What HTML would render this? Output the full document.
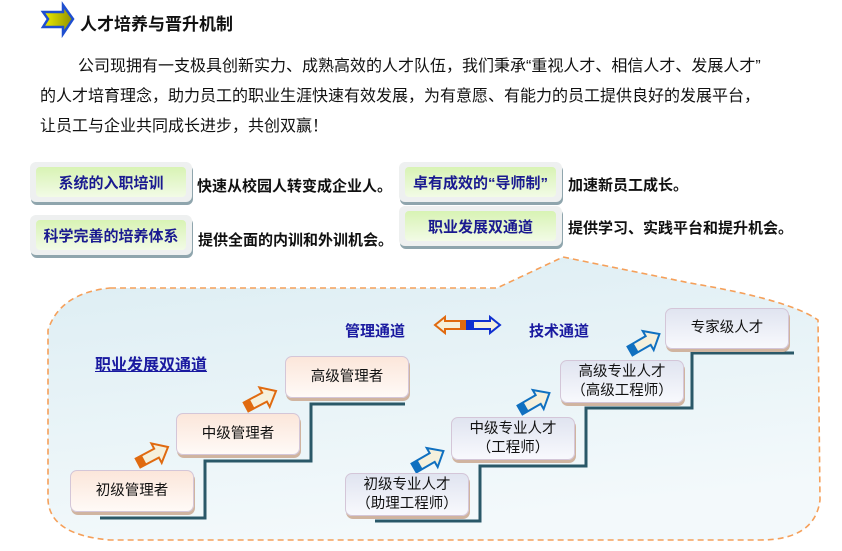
<!DOCTYPE html>
<html><head><meta charset="utf-8"><style>
body{margin:0;width:842px;height:551px;background:#fff;position:relative;overflow:hidden;font-family:"Liberation Sans","Noto Sans CJK SC",sans-serif;}
.a{position:absolute;white-space:nowrap;}
.p{font-size:16px;color:#111;line-height:20px;}
.gb{position:absolute;border-radius:6px;background:#eef0f0;box-shadow:1px 3px 0 #8fa5ad;}
.gb div{position:absolute;left:6px;top:5px;right:6px;bottom:5px;border-radius:4px;background:linear-gradient(#d8f3b4,#f2fbe6);color:#1a1a90;font-weight:bold;font-size:15px;display:flex;align-items:center;justify-content:center;}
.d{font-size:15px;font-weight:bold;color:#111;}
.mb{position:absolute;border:1.5px solid #d4c6d8;border-radius:7px;background:linear-gradient(#fbe6da,#fffaf7);box-shadow:1px 3px 0 #d0b4a0;display:flex;align-items:center;justify-content:center;text-align:center;font-size:14.5px;color:#111;line-height:19px;box-sizing:border-box;}
.tb{background:linear-gradient(#e0e4f0,#f8f9fd);}
</style></head><body>
<svg class="a" style="left:0;top:0" width="842" height="551">
<defs>
<linearGradient id="yg" x1="0" x2="1"><stop offset="0" stop-color="#f0f000"/><stop offset="1" stop-color="#909000"/></linearGradient>
<linearGradient id="bg" x1="0" y1="0" x2="0.3" y2="1"><stop offset="0" stop-color="#dcedf3"/><stop offset="1" stop-color="#f3f9fb"/></linearGradient>
</defs>
<polygon points="43,12 63,12 63,5 73,19 63,34 63,27 43,27 48,19" fill="url(#yg)" stroke="#1f4fd0" stroke-width="2.5"/>
<path d="M110,288 L497,288 L563,257 L690,283 Q790,300 818,320 L820,500 Q815,540 760,540 L110,540 Q50,535 48,500 L48,330 Q60,293 110,288 Z" fill="url(#bg)" stroke="#f5a05a" stroke-width="1.6" stroke-dasharray="6,4"/>
<g fill="none" stroke="#2a5868" stroke-width="3">
<polyline points="100,518 205,518 205,461 311,461 311,404 405,404"/>
<polyline points="375,521 480,521 480,466 586,466 586,408 692,408 692,353 794,353"/>
</g>
<g stroke-width="2">
<g transform="translate(138,463) rotate(-28)"><polygon points="0,-5 21,-5 21,-11 34,0 21,11 21,5 0,5" fill="#f5f0dc" stroke="#e06a10"/><rect x="0" y="-5" width="7" height="10" fill="#e06a10"/></g>
<g transform="translate(246,407) rotate(-28)"><polygon points="0,-5 21,-5 21,-11 34,0 21,11 21,5 0,5" fill="#f5f0dc" stroke="#e06a10"/><rect x="0" y="-5" width="7" height="10" fill="#e06a10"/></g>
<g transform="translate(414,468) rotate(-30)"><polygon points="0,-5 21,-5 21,-11 34,0 21,11 21,5 0,5" fill="#f5f0dc" stroke="#1070c0"/><rect x="0" y="-5" width="7" height="10" fill="#1070c0"/></g>
<g transform="translate(520,410) rotate(-30)"><polygon points="0,-5 21,-5 21,-11 34,0 21,11 21,5 0,5" fill="#f5f0dc" stroke="#1070c0"/><rect x="0" y="-5" width="7" height="10" fill="#1070c0"/></g>
<g transform="translate(630,351) rotate(-30)"><polygon points="0,-5 21,-5 21,-11 34,0 21,11 21,5 0,5" fill="#f5f0dc" stroke="#1070c0"/><rect x="0" y="-5" width="7" height="10" fill="#1070c0"/></g>
<polygon points="467,321 445,321 445,317 435,325 445,333 445,329 467,329" fill="#f5f0dc" stroke="#e06a10"/>
<rect x="460" y="321" width="7" height="8" fill="#e06a10"/>
<polygon points="467,321 490,321 490,317 500,325 490,333 490,329 467,329" fill="#f5f0dc" stroke="#1030d0"/>
<rect x="467" y="321" width="7" height="8" fill="#1030d0"/>
</g>
</svg>
<div class="a" style="left:80px;top:10px;font-size:17px;font-weight:bold;color:#111">人才培养与晋升机制</div>
<div class="a p" style="left:78px;top:57px">公司现拥有一支极具创新实力、成熟高效的人才队伍，我们秉承“重视人才、相信人才、发展人才”</div>
<div class="a p" style="left:40px;top:87px">的人才培育理念，助力员工的职业生涯快速有效发展，为有意愿、有能力的员工提供良好的发展平台，</div>
<div class="a p" style="left:40px;top:117px">让员工与企业共同成长进步，共创双赢！</div>
<div class="gb" style="left:30px;top:162px;width:162px;height:40px"><div>系统的入职培训</div></div>
<div class="gb" style="left:30px;top:215px;width:162px;height:40px"><div>科学完善的培养体系</div></div>
<div class="gb" style="left:399px;top:162px;width:163px;height:40px"><div>卓有成效的“导师制”</div></div>
<div class="gb" style="left:399px;top:206px;width:163px;height:40px"><div>职业发展双通道</div></div>
<div class="a d" style="left:197px;top:175px">快速从校园人转变成企业人。</div>
<div class="a d" style="left:198px;top:229px">提供全面的内训和外训机会。</div>
<div class="a d" style="left:568px;top:174px">加速新员工成长。</div>
<div class="a d" style="left:568px;top:217px">提供学习、实践平台和提升机会。</div>
<div class="a" style="left:95px;top:351px;font-size:16px;font-weight:bold;color:#1a1aa0;text-decoration:underline">职业发展双通道</div>
<div class="a" style="left:345px;top:320px;font-size:15px;font-weight:bold;color:#1a1aa0">管理通道</div>
<div class="a" style="left:529px;top:320px;font-size:15px;font-weight:bold;color:#1a1aa0">技术通道</div>
<div class="mb" style="left:70px;top:470px;width:124px;height:42px">初级管理者</div>
<div class="mb" style="left:176px;top:413px;width:124px;height:42px">中级管理者</div>
<div class="mb" style="left:285px;top:356px;width:124px;height:42px">高级管理者</div>
<div class="mb tb" style="left:345px;top:473px;width:124px;height:43px">初级专业人才<br>（助理工程师）</div>
<div class="mb tb" style="left:451px;top:417px;width:124px;height:43px">中级专业人才<br>（工程师）</div>
<div class="mb tb" style="left:560px;top:360px;width:124px;height:43px">高级专业人才<br>（高级工程师）</div>
<div class="mb tb" style="left:665px;top:308px;width:124px;height:41px">专家级人才</div>
</body></html>
